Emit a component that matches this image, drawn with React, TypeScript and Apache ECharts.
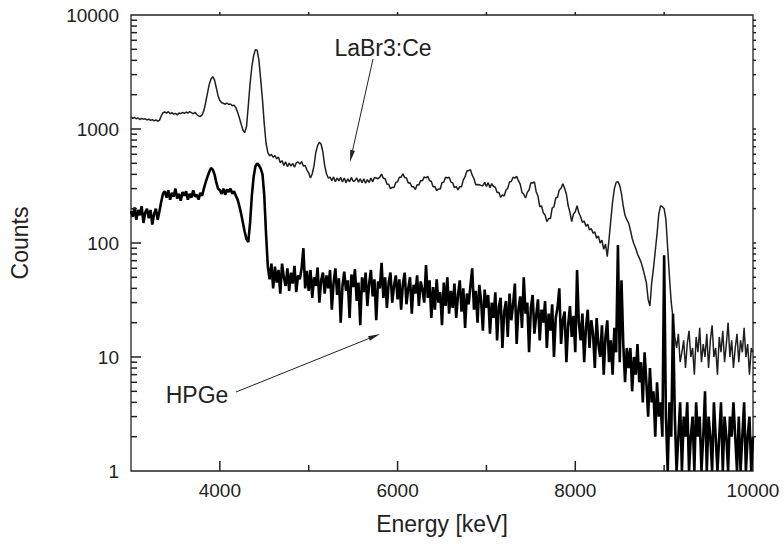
import React, { useEffect, useRef } from "react";
import * as echarts from "echarts";

// Spectrum channel grid (keV)
const ENERGY_START = 3000;
const ENERGY_STEP = 20;

// LaBr3:Ce counts, one value per 20 keV from 3000 to 10000 keV
const laBrCounts = [
  1280, 1240, 1260, 1230, 1250, 1210, 1240, 1220, 1230, 1200,
  1220, 1190, 1210, 1180, 1200, 1170, 1190, 1300, 1390, 1410,
  1380, 1420, 1360, 1390, 1350, 1370, 1330, 1380, 1360, 1400,
  1370, 1410, 1380, 1420, 1390, 1360, 1400, 1340, 1300, 1290,
  1330, 1450, 1700, 2050, 2450, 2750, 2880, 2700, 2300, 1950,
  1780, 1700, 1680, 1650, 1690, 1640, 1660, 1600, 1620, 1540,
  1400, 1250, 1100, 980, 930, 1050, 1600, 2500, 3500, 4400,
  4950, 4900, 4000, 2700, 1800, 1100, 750, 620, 580, 600,
  565, 585, 548, 566, 505, 528, 478, 515, 468, 502,
  472, 498, 462, 505, 515, 492, 518, 474, 478, 436,
  412, 372, 405, 478, 625, 715, 765, 735, 625, 475,
  405, 372, 378, 352, 380, 345, 372, 350, 376, 343,
  372, 338, 366, 344, 376, 348, 352, 372, 342, 366,
  338, 366, 334, 360, 340, 372, 344, 376, 372, 366,
  378, 402, 370, 366, 330, 328, 300, 308, 306, 340,
  344, 378, 378, 404, 376, 372, 336, 338, 312, 312,
  294, 324, 322, 354, 352, 380, 372, 384, 352, 346,
  312, 312, 288, 298, 298, 338, 342, 378, 372, 378,
  342, 338, 306, 312, 292, 312, 312, 358, 382, 428,
  432, 440, 394, 366, 324, 326, 324, 320, 318, 340,
  314, 338, 306, 332, 312, 308, 278, 278, 252, 264,
  258, 292, 302, 344, 346, 378, 370, 384, 352, 328,
  278, 268, 248, 278, 292, 338, 336, 344, 282, 258,
  208, 212, 184, 176, 154, 164, 164, 202, 208, 248,
  252, 292, 302, 330, 302, 268, 212, 186, 154, 180,
  188, 212, 184, 170, 152, 156, 140, 146, 130, 134,
  122, 125, 110, 115, 100, 106, 88, 98, 76, 108,
  160, 230, 300, 340, 345, 320, 270, 210, 175, 160,
  150, 130, 110, 98, 90, 80, 74, 68, 60, 52,
  45, 32, 28, 45, 60, 85, 120, 180, 213, 208,
  200, 160, 90, 50, 30, 22, 15, 12, 16, 9,
  11, 14, 8, 13, 17, 10, 12, 7, 15, 11,
  18, 9, 13, 10, 16, 8, 14, 19, 10, 12,
  7, 15, 11, 17, 9, 13, 20, 10, 14, 8,
  12, 16, 9, 14, 11, 18, 10, 13, 7, 12,
  11,
];

// HPGe counts, one value per 20 keV from 3000 to 10000 keV
const hpgeCounts = [
  190, 170, 205, 160, 195, 175, 210, 150, 185, 200,
  165, 195, 145, 180, 200, 160, 190, 230, 270, 285,
  250, 290, 240, 275, 255, 300, 245, 270, 235, 280,
  260, 285, 240, 270, 250, 290, 255, 265, 240, 275,
  260, 300, 340, 380, 420, 455, 440, 400, 340, 300,
  290, 270, 300, 265, 295, 280, 300, 270, 285, 260,
  240, 210, 180, 150, 125, 108, 102, 150, 260, 380,
  470, 500, 480, 450, 400, 260, 120, 62, 48, 66,
  40, 62, 45, 58, 36, 66, 50, 42, 60, 38,
  55, 44, 63, 37, 52, 48, 60, 90, 40, 57,
  38, 58, 33, 50, 42, 61, 30, 47, 55, 36,
  52, 40, 58, 26, 45, 60, 35, 49, 20, 42,
  56, 38, 47, 22, 53, 41, 59, 31, 45, 19,
  50, 37, 55, 28, 44, 58, 34, 48, 21, 46,
  40, 67, 33, 50, 27, 45, 55, 30, 42, 52,
  32, 48, 26, 44, 55, 29, 40, 50, 24, 43,
  36, 52, 28, 46, 39, 30, 64, 33, 47, 22,
  41, 26, 48, 30, 37, 19, 45, 28, 50, 24,
  38, 27, 44, 22, 35, 47, 25, 40, 18, 36,
  29, 42, 60, 26, 38, 20, 43, 31, 17, 39,
  27, 35, 16, 30, 22, 37, 14, 28, 33, 12,
  25, 31, 15, 36, 21, 29, 44, 13, 26, 34,
  18, 50, 24, 30, 11, 27, 35, 16, 23, 32,
  14, 26, 20, 31, 12, 24, 17, 29, 10, 22,
  27, 40, 13, 21, 25, 9, 19, 28, 15, 23,
  11, 58, 20, 14, 24, 9, 18, 26, 12, 21,
  16, 8, 22, 13, 10, 19, 7, 15, 21, 9,
  14, 7, 18, 11, 96, 9, 47, 13, 6, 12,
  8, 12, 5, 10, 7, 13, 6, 9, 4, 11,
  6, 3, 8, 4, 5, 2, 6, 3, 4, 2,
  78, 3, 1, 4, 2, 24, 3, 1, 2, 4,
  1, 3, 2, 4, 1, 2, 3, 1, 4, 2,
  3, 1, 2, 5, 1, 3, 2, 1, 4, 2,
  1, 2, 4, 1, 3, 2, 1, 3, 2, 4,
  2, 1, 3, 1, 2, 4, 1, 2, 3, 1,
  2,
];

// Axis range, ticks and labels
const X_MIN = 3000;
const X_MAX = 10000;
const Y_MIN = 1;
const Y_MAX = 10000;
const xLabelValues = [4000, 6000, 8000, 10000];
const xMajorTicks = [4000, 6000, 8000];
const xMinorTicks = [5000, 7000, 9000];
const xTopTicks = [4000, 5000, 6000, 7000, 8000, 9000];
const yMajorTickValues = [10, 100, 1000];
const yMinorTickValues = [
  2, 3, 4, 5, 6, 7, 8, 9,
  20, 30, 40, 50, 60, 70, 80, 90,
  200, 300, 400, 500, 600, 700, 800, 900,
  2000, 3000, 4000, 5000, 6000, 7000, 8000, 9000,
];

const FONT = "'Liberation Sans', Arial, Helvetica, sans-serif";
const INK = "#222";

export default function App() {
  const ref = useRef<HTMLDivElement>(null);

  useEffect(() => {
    if (!ref.current) return;
    const chart = echarts.init(ref.current, undefined, { renderer: "svg" });

    const toPairs = (arr: number[]) =>
      arr.map((c, i) => [ENERGY_START + i * ENERGY_STEP, c]);

    chart.setOption({
      animation: false,
      backgroundColor: "#fff",
      grid: {
        left: 130,
        right: 31,
        top: 15,
        bottom: 76,
        show: true,
        borderColor: INK,
        borderWidth: 1.3,
        backgroundColor: "transparent",
      },
      xAxis: {
        type: "value",
        min: X_MIN,
        max: X_MAX,
        position: "bottom",
        axisLine: { show: false, onZero: false },
        axisTick: { show: false },
        axisLabel: {
          customValues: xLabelValues,
          fontSize: 19,
          color: INK,
          margin: 10,
          fontFamily: FONT,
          formatter: (v: number) => String(v),
        },
        splitLine: { show: false },
        name: "Energy [keV]",
        nameLocation: "middle",
        nameGap: 41,
        nameTextStyle: { fontSize: 23, color: INK, fontFamily: FONT },
      },
      yAxis: {
        type: "log",
        logBase: 10,
        min: Y_MIN,
        max: Y_MAX,
        position: "left",
        axisLine: { show: false, onZero: false },
        axisTick: { show: false },
        axisLabel: {
          fontSize: 19,
          color: INK,
          margin: 12,
          fontFamily: FONT,
          formatter: (v: number) => String(v),
        },
        splitLine: { show: false },
        name: "Counts",
        nameLocation: "middle",
        nameGap: 100,
        nameTextStyle: { fontSize: 23, color: INK, fontFamily: FONT },
      },
      series: [
        {
          name: "LaBr3:Ce",
          type: "line",
          data: toPairs(laBrCounts),
          showSymbol: false,
          symbol: "none",
          lineStyle: { color: "#1f1f1f", width: 1.5 },
          z: 2,
        },
        {
          name: "HPGe",
          type: "line",
          data: toPairs(hpgeCounts),
          showSymbol: false,
          symbol: "none",
          lineStyle: { color: "#000", width: 2.6 },
          z: 3,
        },
      ],
    });

    // tick marks placed through the chart's own scales
    const toPx = (x: number, y: number) =>
      chart.convertToPixel({ seriesIndex: 0 }, [x, y]) as number[];
    const tickLines: any[] = [];
    const addTicks = (pts: number[][], dx: number, dy: number) => {
      pts.forEach(([x, y]) => {
        const p = toPx(x, y);
        tickLines.push({
          type: "line",
          z: 100,
          shape: { x1: p[0], y1: p[1], x2: p[0] + dx, y2: p[1] + dy },
          style: { stroke: INK, lineWidth: 1.5 },
        });
      });
    };
    addTicks(yMajorTickValues.map((v) => [X_MIN, v]), 10, 0);
    addTicks(yMinorTickValues.map((v) => [X_MIN, v]), 6, 0);
    addTicks(yMajorTickValues.concat(yMinorTickValues).map((v) => [X_MAX, v]), 3, 0);
    addTicks(xMajorTicks.map((x) => [x, Y_MIN]), 0, -10);
    addTicks(xMinorTicks.map((x) => [x, Y_MIN]), 0, -6);
    addTicks(xTopTicks.map((x) => [x, Y_MAX]), 0, -3);

    chart.setOption({
      graphic: [
        {
          type: "text",
          x: 383,
          y: 48,
          style: { text: "LaBr3:Ce", fontSize: 23, fontFamily: FONT, fill: INK, align: "center", verticalAlign: "middle" },
        },
        {
          type: "line",
          shape: { x1: 373, y1: 59, x2: 352.6, y2: 150.3 },
          style: { stroke: INK, lineWidth: 1 },
        },
        {
          type: "polygon",
          shape: { points: [[350, 162], [355.0, 150.8], [350.2, 149.8]] },
          style: { fill: INK },
        },
        {
          type: "text",
          x: 197,
          y: 395,
          style: { text: "HPGe", fontSize: 23, fontFamily: FONT, fill: INK, align: "center", verticalAlign: "middle" },
        },
        {
          type: "line",
          shape: { x1: 236, y1: 392, x2: 368.9, y2: 338.5 },
          style: { stroke: INK, lineWidth: 1 },
        },
        {
          type: "polygon",
          shape: { points: [[380, 334], [369.8, 340.8], [368.0, 336.2]] },
          style: { fill: INK },
        },
        ...tickLines,
      ],
    });

    return () => chart.dispose();
  }, []);

  return (
    <div
      ref={ref}
      style={{ position: "fixed", left: 0, top: 0, width: 784, height: 547, background: "#fff" }}
    />
  );
}
